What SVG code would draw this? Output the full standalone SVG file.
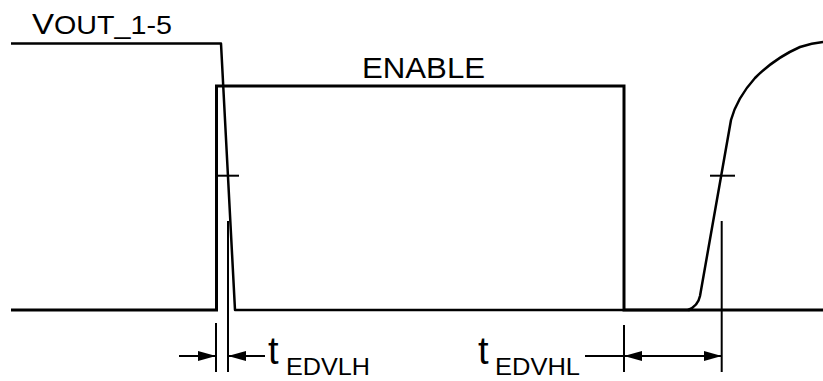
<svg xmlns="http://www.w3.org/2000/svg" width="823" height="381" viewBox="0 0 823 381">
<style>
.thick{fill:none;stroke:#000;stroke-width:3;stroke-linejoin:miter}
.sig{fill:none;stroke:#000;stroke-width:2.5;stroke-linejoin:round}
.thin{fill:none;stroke:#000;stroke-width:2}
text{font-family:"Liberation Sans",Arial,sans-serif;fill:#000}
.t{font-size:38px}
.sub{font-size:24px}
</style>
<defs>
<marker id="ah" viewBox="0 0 18 10" refX="18" refY="5" markerWidth="18" markerHeight="10" markerUnits="userSpaceOnUse" orient="auto">
<path d="M0,0 L18,5 L0,10 Z" fill="#000"/>
</marker>
</defs>
<g id="enable">
<path class="thick" d="M11,310 H216.5 V86 H624 V310 H823"/>
<text x="362" y="78" font-size="30" textLength="123" lengthAdjust="spacingAndGlyphs">ENABLE</text>
</g>
<g id="vout">
<path class="sig" d="M11,43.5 H221 L235,310 H690"/>
<path class="sig" d="M688,310 Q698,306 700,296 L731,120 Q737,98 755,78 Q775,58 800,47 Q812,43 823,42"/>
<text x="32" y="33.5" textLength="140" lengthAdjust="spacingAndGlyphs"><tspan font-size="30">V</tspan><tspan font-size="26">OUT_1-5</tspan></text>
</g>
<g id="connectors">
<line class="thin" x1="217" y1="175.7" x2="239" y2="175.7"/>
<line class="thin" x1="710" y1="175.7" x2="735" y2="175.7"/>
<line class="thin" x1="216" y1="323" x2="216" y2="372"/>
<line class="thin" x1="228" y1="221" x2="228" y2="372"/>
<line class="thin" x1="624" y1="325" x2="624" y2="372"/>
<line class="thin" x1="721.7" y1="221" x2="721.7" y2="372"/>
<line class="thin" x1="179" y1="356" x2="216" y2="356" marker-end="url(#ah)"/>
<line class="thin" x1="265" y1="356" x2="228" y2="356" marker-end="url(#ah)"/>
<line class="thin" x1="585" y1="356" x2="624" y2="356"/>
<line class="thin" x1="673" y1="356" x2="624" y2="356" marker-end="url(#ah)"/>
<line class="thin" x1="673" y1="356" x2="721.7" y2="356" marker-end="url(#ah)"/>
</g>
<g id="label-edvlh">
<text class="t" x="268" y="364">t</text>
<text class="sub" x="286" y="375" textLength="84" lengthAdjust="spacingAndGlyphs">EDVLH</text>
</g>
<g id="label-edvhl">
<text class="t" x="478" y="364">t</text>
<text class="sub" x="495" y="375" textLength="85" lengthAdjust="spacingAndGlyphs">EDVHL</text>
</g>
</svg>
